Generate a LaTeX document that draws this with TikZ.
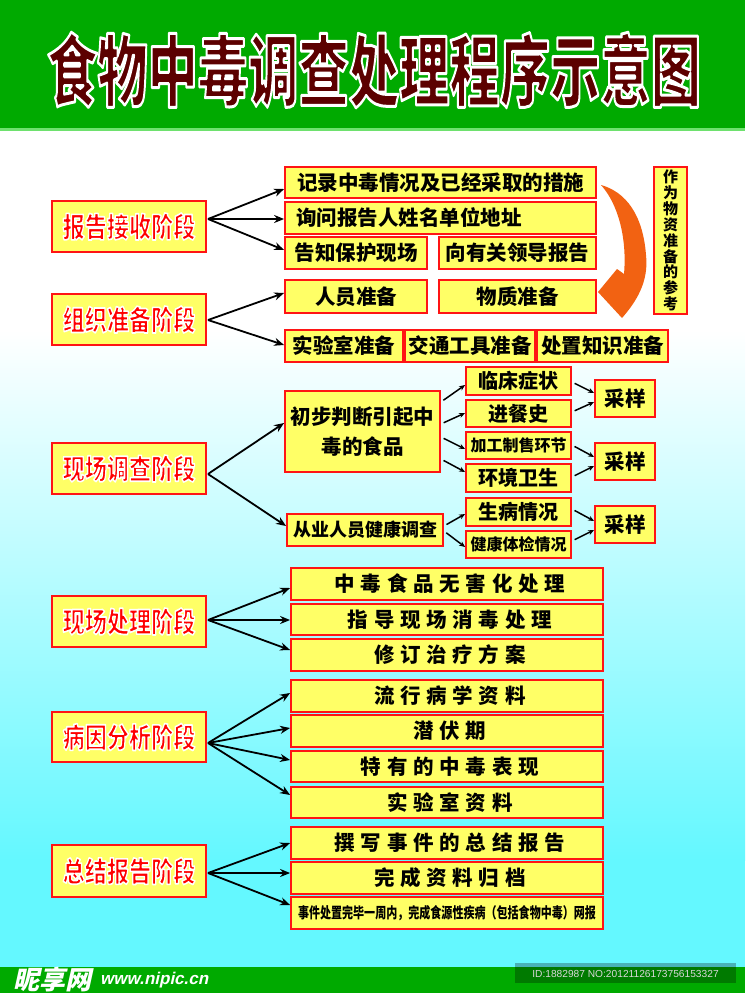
\documentclass[tikz,border=0pt]{standalone}
\usepackage{graphicx}
\usepackage{fontspec}
\setmainfont{Noto Sans CJK SC}
\newfontfamily\latinfont{Liberation Sans}
\usetikzlibrary{arrows.meta}
\definecolor{titlegreen}{RGB}{0,170,0}
\definecolor{lightline}{RGB}{110,225,110}
\definecolor{boxyellow}{RGB}{255,255,102}
\definecolor{boxred}{RGB}{255,20,20}
\definecolor{titlered}{RGB}{92,0,0}
\definecolor{bgcyan}{RGB}{100,248,255}
\definecolor{orangearrow}{RGB}{242,98,18}
\definecolor{idgray}{RGB}{215,215,215}
\newcommand\outl[2]{\special{pdf:literal #1 w 1 1 1 RG 1 j 2 Tr}#2\special{pdf:literal 0 Tr}}
\newcommand\stg[1]{\scalebox{0.79}[1]{\outl{1.6}{#1}}}
\newcommand\lsp[1]{{\addfontfeatures{LetterSpace=28}\kern.28em#1}}
\newcommand\bx[7][]{\node[box,minimum width={#5-#3},minimum height={#6-#4},#1] (#2) at ({(#3+#5)/2},{(#4+#6)/2}) {#7};}
\tikzset{
  box/.style={draw=boxred, line width=1.8pt, fill=boxyellow, inner sep=0pt, text=black,
    font=\bfseries\fontsize{20.5}{24}\selectfont},
  stage/.style={text=red, font=\bfseries\fontsize{28}{30}\selectfont},
  leftbox/.style={align=left, text width=289pt, inner xsep=11pt},
  fs18/.style={font=\bfseries\fontsize{18}{20}\selectfont},
  fs20/.style={font=\bfseries\fontsize{20}{22}\selectfont},
  fs16/.style={font=\bfseries\fontsize{16}{18}\selectfont},
  twoline/.style={align=center, font=\bfseries\fontsize{20.5}{30}\selectfont},
  vtext/.style={align=center, font=\bfseries\fontsize{15}{15.9}\selectfont},
  arr/.style={line width=1.8pt, -{Stealth[length=10pt,width=8pt]}},
  sarr/.style={line width=1.5pt, shorten <=3pt, -{Stealth[length=6pt,width=5pt]}},
}
\begin{document}
\begin{tikzpicture}[x=1pt,y=-1pt]
\useasboundingbox (0,0) rectangle (745,993);
% background
\fill[white] (0,128) rectangle (745,967);
\shade[top color=white, bottom color=bgcyan] (0,330) rectangle (745,860);
\fill[bgcyan] (0,859) rectangle (745,967);
\fill[titlegreen] (0,0) rectangle (745,128);
\fill[lightline] (0,128) rectangle (745,131);
\fill[titlegreen] (0,967) rectangle (745,993);
% title
\node[text=titlered, font=\bfseries\fontsize{78}{78}\selectfont, inner sep=0pt] (title) at (374,70)
  {\scalebox{0.645}[1]{\outl{3}{食物中毒调查处理程序示意图}}};

% ---------- section 1
\bx[stage]{s1}{52}{201}{206}{252}{\stg{报告接收阶段}}
\bx{r11}{285}{167}{596}{198}{记录中毒情况及已经采取的措施}
\bx[leftbox]{r12}{285}{202}{596}{234}{询问报告人姓名单位地址}
\bx{r13}{285}{237}{427}{269}{告知保护现场}
\bx{r14}{439}{237}{596}{269}{向有关领导报告}
\coordinate (o1) at (208,219);
\draw[arr] (o1) -- (r11.west |- 0,189);
\draw[arr] (o1) -- (r12.west |- 0,219);
\draw[arr] (o1) -- (r13.west |- 0,250);

% ---------- section 2
\bx[stage]{s2}{52}{294}{206}{345}{\stg{组织准备阶段}}
\bx{r21}{285}{280}{427}{313}{人员准备}
\bx{r22}{439}{280}{596}{313}{物质准备}
\bx{r23}{285}{330}{403}{362}{实验室准备}
\bx{r24}{405}{330}{535}{362}{交通工具准备}
\bx{r25}{537}{330}{668}{362}{处置知识准备}
\coordinate (o2) at (208,320);
\draw[arr] (o2) -- (r21.west |- 0,293);
\draw[arr] (o2) -- (r23.west |- 0,345);

% reference box and orange arrow
\bx[vtext]{ref}{654}{167}{687}{314}{作\\为\\物\\资\\准\\备\\的\\参\\考}
\fill[orangearrow] (601,185) .. controls (626,192) and (643,215) .. (646,255)
  .. controls (649,282) and (636,302) .. (622,318) -- (598,292) -- (617,269) -- (624,274)
  .. controls (627,240) and (619,205) .. (601,185) -- cycle;

% ---------- section 3
\bx[stage]{s3}{52}{443}{206}{494}{\stg{现场调查阶段}}
\bx[twoline]{c1}{285}{391}{440}{472}{初步判断引起中\\毒的食品}
\bx[fs18]{c2}{287}{514}{443}{546}{从业人员健康调查}
\bx[fs20]{d1}{466}{367}{571}{395}{临床症状}
\bx[fs20]{d2}{466}{400}{571}{427}{进餐史}
\bx[fs16]{d3}{466}{432}{571}{459}{加工制售环节}
\bx[fs20]{d4}{466}{464}{571}{492}{环境卫生}
\bx[fs20]{d5}{466}{498}{571}{526}{生病情况}
\bx[fs16]{d6}{466}{531}{571}{558}{健康体检情况}
\bx{e1}{595}{380}{655}{417}{采样}
\bx{e2}{595}{443}{655}{480}{采样}
\bx{e3}{595}{506}{655}{543}{采样}
\coordinate (o3) at (208,474);
\draw[arr] (o3) -- (c1.west |- 0,423);
\draw[arr] (o3) -- (c2.west |- 0,526);
\draw[sarr] (c1.east |- 0,402) -- (d1.west |- 0,385);
\draw[sarr] (c1.east |- 0,424) -- (d2.west |- 0,413);
\draw[sarr] (c1.east |- 0,437) -- (d3.west |- 0,449);
\draw[sarr] (c1.east |- 0,459) -- (d4.west |- 0,472);
\draw[sarr] (c2.east |- 0,526) -- (d5.west |- 0,514);
\draw[sarr] (c2.east |- 0,531) -- (d6.west |- 0,547);
\draw[sarr] (d1.east |- 0,382) -- (e1.west |- 0,393);
\draw[sarr] (d2.east |- 0,412) -- (e1.west |- 0,402);
\draw[sarr] (d3.east |- 0,445) -- (e2.west |- 0,457);
\draw[sarr] (d4.east |- 0,477) -- (e2.west |- 0,466);
\draw[sarr] (d5.east |- 0,509) -- (e3.west |- 0,521);
\draw[sarr] (d6.east |- 0,541) -- (e3.west |- 0,530);

% ---------- section 4
\bx[stage]{s4}{52}{596}{206}{647}{\stg{现场处理阶段}}
\bx{f1}{291}{568}{603}{600}{\lsp{中毒食品无害化处理}}
\bx{f2}{291}{604}{603}{635}{\lsp{指导现场消毒处理}}
\bx{f3}{291}{639}{603}{671}{\lsp{修订治疗方案}}
\coordinate (o4) at (208,620);
\draw[arr] (o4) -- (f1.west |- 0,588);
\draw[arr] (o4) -- (f2.west |- 0,620);
\draw[arr] (o4) -- (f3.west |- 0,650);

% ---------- section 5
\bx[stage]{s5}{52}{712}{206}{762}{\stg{病因分析阶段}}
\bx{g1}{291}{680}{603}{712}{\lsp{流行病学资料}}
\bx{g2}{291}{715}{603}{747}{\lsp{潜伏期}}
\bx{g3}{291}{751}{603}{782}{\lsp{特有的中毒表现}}
\bx{g4}{291}{787}{603}{818}{\lsp{实验室资料}}
\coordinate (o5) at (208,743);
\draw[arr] (o5) -- (g1.west |- 0,693);
\draw[arr] (o5) -- (g2.west |- 0,728);
\draw[arr] (o5) -- (g3.west |- 0,760);
\draw[arr] (o5) -- (g4.west |- 0,795);

% ---------- section 6
\bx[stage]{s6}{52}{845}{206}{897}{\stg{总结报告阶段}}
\bx{h1}{291}{827}{603}{859}{\lsp{撰写事件的总结报告}}
\bx{h2}{291}{862}{603}{894}{\lsp{完成资料归档}}
\bx[font=\bfseries\fontsize{15}{17}\selectfont]{h3}{291}{897}{603}{929}{\resizebox{298pt}{\height}{事件处置完毕一周内，完成食源性疾病（包括食物中毒）网报}}
\coordinate (o6) at (208,873);
\draw[arr] (o6) -- (h1.west |- 0,843);
\draw[arr] (o6) -- (h2.west |- 0,873);
\draw[arr] (o6) -- (h3.west |- 0,905);

% ---------- footer
\begin{scope}[shift={(15,980)}, xslant=0.22]
  \node[transform shape, anchor=west, inner sep=0pt, text=white, font=\bfseries\fontsize{26}{28}\selectfont] (wm1) at (0,0) {昵享网};
  \node[transform shape, anchor=west, inner sep=0pt, text=white, font=\latinfont\bfseries\fontsize{17}{19}\selectfont] (wm2) at (86,0) {www.nipic.cn};
\end{scope}
\fill[black, opacity=0.28] (515,963) rectangle (736,983);
\node[text=idgray, font=\latinfont\fontsize{10.2}{12}\selectfont, inner sep=0pt] (idtext) at (625.5,973.5) {ID:1882987 NO:20121126173756153327};
\end{tikzpicture}
\end{document}
